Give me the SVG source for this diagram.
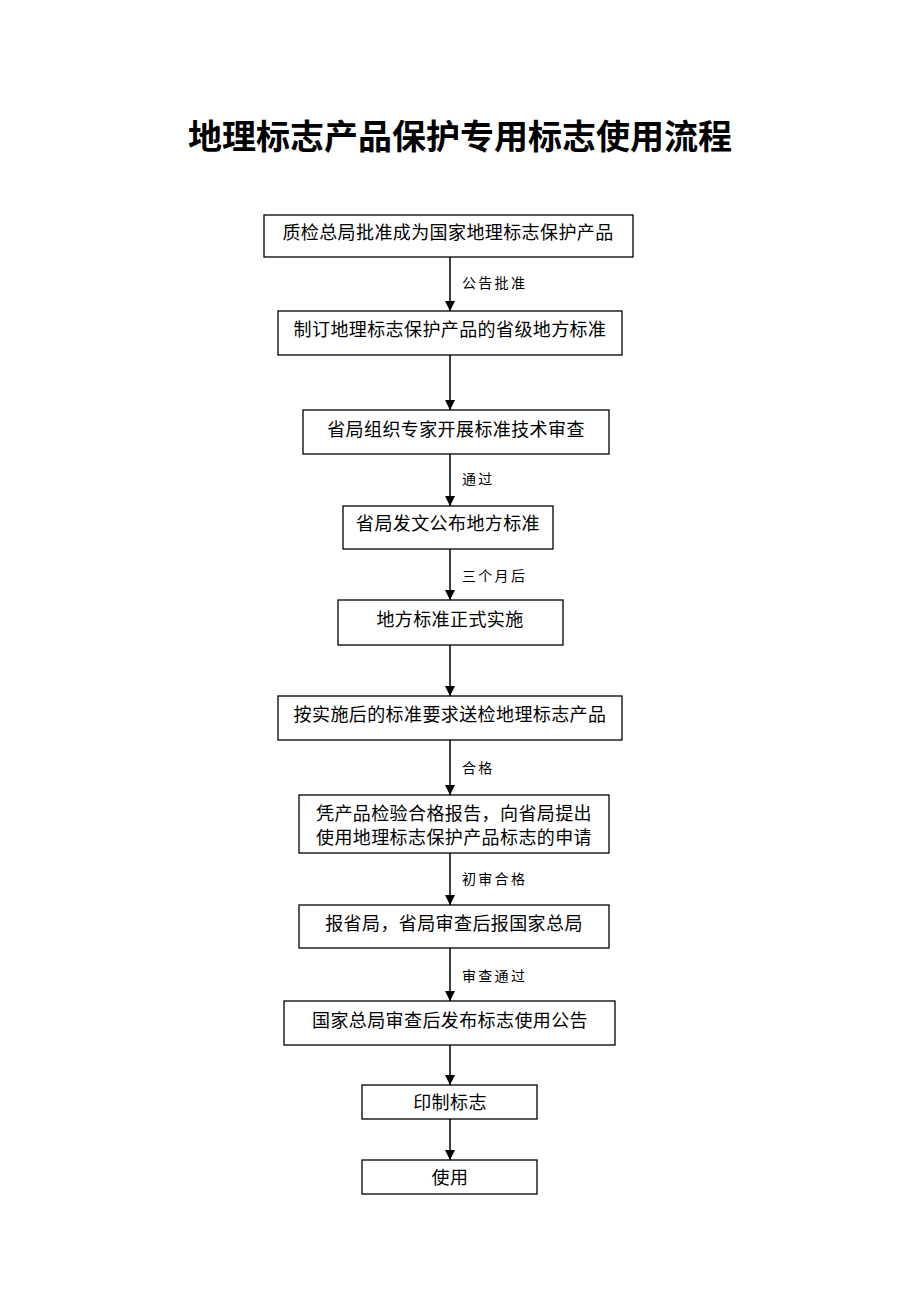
<svg xmlns="http://www.w3.org/2000/svg" width="920" height="1302" viewBox="0 0 920 1302">
<style>
.box{fill:#fff;stroke:#000;stroke-width:1.3}
.t{font-family:"Liberation Serif","Noto Sans CJK SC",serif;font-size:18px;fill:#000;text-anchor:middle;dominant-baseline:central;letter-spacing:0.4px}
.lbl{font-family:"Liberation Serif","Noto Sans CJK SC",serif;font-size:14px;fill:#000;dominant-baseline:central;letter-spacing:2.3px}
.title{font-family:"Liberation Serif","Noto Sans CJK SC",serif;font-size:34px;font-weight:bold;fill:#000;text-anchor:middle;dominant-baseline:central}
.c{stroke:#000;stroke-width:1.5;fill:none;marker-end:url(#ah)}
</style>
<defs>
<marker id="ah" markerWidth="10" markerHeight="10" refX="10" refY="5" orient="auto" markerUnits="userSpaceOnUse">
<path d="M0,0 L10,5 L0,10 Z" fill="#000"/>
</marker>
</defs>
<rect width="920" height="1302" fill="#fff"/>
<text class="title" x="460" y="137">地理标志产品保护专用标志使用流程</text>
<g id="connectors">
<line class="c" x1="450" y1="257" x2="450" y2="311"/>
<text class="lbl" x="462" y="283">公告批准</text>
<line class="c" x1="450" y1="355" x2="450" y2="410"/>
<line class="c" x1="450" y1="454" x2="450" y2="506"/>
<text class="lbl" x="462" y="479">通过</text>
<line class="c" x1="450" y1="549" x2="450" y2="600"/>
<text class="lbl" x="462" y="576">三个月后</text>
<line class="c" x1="450" y1="645" x2="450" y2="696"/>
<line class="c" x1="450" y1="740" x2="450" y2="795"/>
<text class="lbl" x="462" y="768">合格</text>
<line class="c" x1="450" y1="853" x2="450" y2="905"/>
<text class="lbl" x="462" y="879">初审合格</text>
<line class="c" x1="450" y1="948" x2="450" y2="1001"/>
<text class="lbl" x="462" y="976">审查通过</text>
<line class="c" x1="450" y1="1045" x2="450" y2="1085"/>
<line class="c" x1="450" y1="1119" x2="450" y2="1160"/>
</g>
<g id="n1"><rect class="box" x="264" y="215" width="369" height="42"/><text class="t" x="448" y="233">质检总局批准成为国家地理标志保护产品</text></g>
<g id="n2"><rect class="box" x="278" y="311" width="344" height="44"/><text class="t" x="450" y="330">制订地理标志保护产品的省级地方标准</text></g>
<g id="n3"><rect class="box" x="303" y="410" width="306" height="44"/><text class="t" x="456" y="430">省局组织专家开展标准技术审查</text></g>
<g id="n4"><rect class="box" x="343" y="506" width="210" height="43"/><text class="t" x="448" y="524">省局发文公布地方标准</text></g>
<g id="n5"><rect class="box" x="338" y="600" width="225" height="45"/><text class="t" x="450" y="620">地方标准正式实施</text></g>
<g id="n6"><rect class="box" x="278" y="696" width="344" height="44"/><text class="t" x="450" y="715">按实施后的标准要求送检地理标志产品</text></g>
<g id="n7"><rect class="box" x="299" y="795" width="310" height="58"/><text class="t" x="454" y="814">凭产品检验合格报告，向省局提出</text><text class="t" x="454" y="838">使用地理标志保护产品标志的申请</text></g>
<g id="n8"><rect class="box" x="299" y="905" width="310" height="43"/><text class="t" x="454" y="924">报省局，省局审查后报国家总局</text></g>
<g id="n9"><rect class="box" x="284" y="1001" width="331" height="44"/><text class="t" x="450" y="1021">国家总局审查后发布标志使用公告</text></g>
<g id="n10"><rect class="box" x="362" y="1085" width="175" height="34"/><text class="t" x="450" y="1103">印制标志</text></g>
<g id="n11"><rect class="box" x="362" y="1160" width="175" height="34"/><text class="t" x="450" y="1178">使用</text></g>
</svg>
